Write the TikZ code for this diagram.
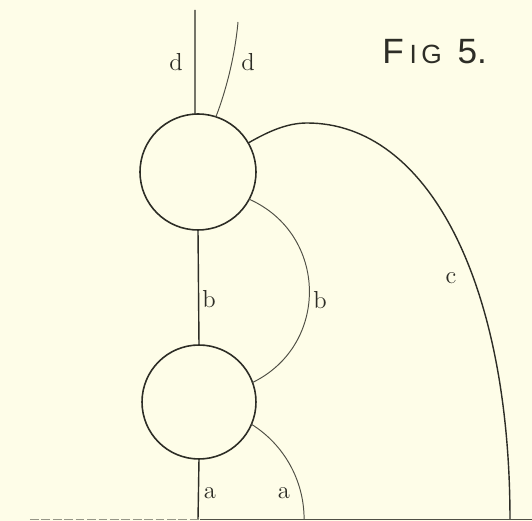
\documentclass[tikz,border=0pt]{standalone}
\usepackage{fontspec}
\newfontfamily\figfont{Liberation Sans}
\definecolor{paper}{RGB}{254,253,232}
\definecolor{ink}{RGB}{45,45,38}
\definecolor{inkl}{RGB}{80,80,70}
\definecolor{inkf}{RGB}{150,150,135}
\begin{document}
\begin{tikzpicture}[x=0.02cm,y=0.02cm,
  ring/.style={circle,draw=ink,line width=0.9pt,minimum size=2.32cm,inner sep=0pt,outer sep=0pt},
  heavy/.style={draw=ink,line width=0.8pt},
  light/.style={draw=inkl,line width=0.55pt},
  lbl/.style={text=ink,font=\fontsize{14}{14}\selectfont,inner sep=0pt}]
\fill[paper] (0,0) rectangle (532,521);
\useasboundingbox (0,0) rectangle (532,521);
\node[ring] (U) at (198,349) {};
\node[ring,minimum size=2.28cm] (L) at (199,119) {};
\coordinate (dtop) at (195,511);
\coordinate (dcurve) at (238,499);
\coordinate (abot) at (198,1.2);
\coordinate (ctop) at (307,398);
\coordinate (cend) at (510,1.2);
\coordinate (bl) at (30,1.2);
\coordinate (bm) at (200,1.2);
\coordinate (br) at (532,1.2);
% d
\draw[heavy] (U.93) -- (dtop);
\draw[light] (U.72) .. controls +(10,26) and +(-3,-34) .. (dcurve);
% b
\draw[heavy] (U.south) -- (L.north);
\draw[light] (U.-28) to[out=-24,in=26,looseness=1.2] (L.20);
% a
\draw[heavy] (L.south) -- (abot);
\draw[light] (L.-23) arc[start angle=58,end angle=0,radius=112];
% c
\draw[heavy] (U.30) .. controls +(20,11.5) and +(-20,0) .. (ctop)
  .. controls +(121,0) and +(0,237) .. (cend);
% base line
\draw[draw=inkf,line width=0.5pt,dash pattern=on 5pt off 1.5pt] (bl) -- (bm);
\draw[light] (bm) -- (br);
% labels
\node[lbl] (ld1) at (176,459) {d};
\node[lbl] (ld2) at (248,459) {d};
\node[lbl] (lb1) at (209,222) {b};
\node[lbl] (lb2) at (320,221) {b};
\node[lbl] (lc) at (451,243) {c};
\node[lbl] (la1) at (210,28) {a};
\node[lbl] (la2) at (284,28) {a};
\node[anchor=base west,text=ink,inner sep=0pt] (fig) at (382,457)
  {\figfont\fontsize{20}{20}\selectfont F\,{\fontsize{15}{15}\selectfont I\,G}\ \,5.};
\end{tikzpicture}
\end{document}
